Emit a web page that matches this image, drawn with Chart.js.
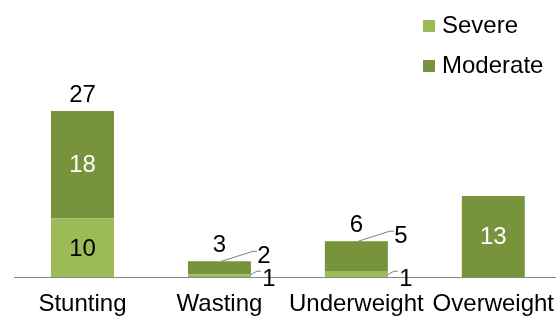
<!DOCTYPE html>
<html>
<head>
<meta charset="utf-8">
<script src="https://cdn.jsdelivr.net/npm/chart.js@4.4.0/dist/chart.umd.min.js"></script>
<style>
  html, body { margin: 0; padding: 0; background: #fff; overflow: hidden; }
  #wrap { width: 567px; height: 320px; }
</style>
</head>
<body>
<div id="wrap"><canvas id="grafico"></canvas></div>
<script>
const categorias = ['Stunting', 'Wasting', 'Underweight', 'Overweight']
const severo = [9.6, 0.5, 1.0, 0]
const moderado = [17.6, 2.1, 4.9, 13.3]
const nomes = ['Severe', 'Moderate']

const corSevero = '#9bbb59'
const corModerado = '#77933c'
const fonte = '"Liberation Sans", Arial, sans-serif'

// rotulos dos segmentos, totais e legenda desenhados no canvas
const rotulos = {
    id: 'rotulos',
    afterDatasetsDraw(chart) {
        const ctx = chart.ctx
        const base = chart.scales.y.getPixelForValue(0)
        ctx.save()
        ctx.font = '24px ' + fonte
        ctx.textAlign = 'center'
        ctx.textBaseline = 'middle'
        ctx.strokeStyle = '#7f7f7f'
        ctx.lineWidth = 1

        chart.data.datasets.forEach((ds, d) => {
            const meta = chart.getDatasetMeta(d)
            meta.data.forEach((bar, i) => {
                const v = ds.data[i]
                if (!v) return
                const top = Math.min(bar.y, bar.base)
                const bot = Math.max(bar.y, bar.base)
                const h = bot - top
                const right = bar.x + bar.width / 2
                const txt = String(Math.round(v))
                if (h > 45) {
                    ctx.fillStyle = d === 0 ? '#000' : '#fff'
                    ctx.fillText(txt, bar.x, (top + bot) / 2 + 1)
                } else if (d === 0) {
                    ctx.beginPath()
                    ctx.moveTo(right - 1, base - 2)
                    ctx.lineTo(right + 6, base - 6)
                    ctx.lineTo(right + 10, base - 6)
                    ctx.stroke()
                    ctx.fillStyle = '#000'
                    ctx.fillText(txt, right + 18, base + 2)
                } else {
                    const ly = top - 5
                    ctx.beginPath()
                    ctx.moveTo(bar.x + 2, top)
                    ctx.lineTo(right + 2, ly - 5)
                    ctx.lineTo(right + 6, ly - 5)
                    ctx.stroke()
                    ctx.fillStyle = '#000'
                    ctx.fillText(txt, right + 13, ly)
                }
            })
        })

        // totais
        const metaTopo = chart.getDatasetMeta(1)
        categorias.forEach((c, i) => {
            if (!severo[i] || !moderado[i]) return
            const bar = metaTopo.data[i]
            ctx.fillStyle = '#000'
            ctx.fillText(String(Math.round(severo[i] + moderado[i])), bar.x, bar.y - 16)
        })

        // legenda
        ctx.textAlign = 'left'
        const cores = [corSevero, corModerado]
        nomes.forEach((n, k) => {
            const y = 26 + k * 40
            ctx.fillStyle = cores[k]
            ctx.fillRect(423, y - 6, 12, 12)
            ctx.fillStyle = '#000'
            ctx.fillText(n, 442, y)
        })
        ctx.restore()
    }
}

new Chart(document.getElementById('grafico'), {
    type: 'bar',
    data: {
        labels: categorias,
        datasets: [
            { label: nomes[0], data: severo, backgroundColor: corSevero },
            { label: nomes[1], data: moderado, backgroundColor: corModerado }
        ]
    },
    options: {
        responsive: true,
        maintainAspectRatio: false,
        animation: false,
        events: [],
        datasets: { bar: { barPercentage: 0.46, categoryPercentage: 1 } },
        layout: { padding: { left: 14, right: 0, top: 94, bottom: -12 } },
        plugins: { legend: { display: false }, tooltip: { enabled: false } },
        scales: {
            x: {
                stacked: true,
                grid: { display: false, drawTicks: false },
                border: { color: '#868686', width: 1 },
                ticks: {
                    color: '#000', padding: 13, maxRotation: 0, minRotation: 0, autoSkip: false,
                    font: { family: fonte, size: 24 }
                }
            },
            y: {
                stacked: true,
                display: false,
                min: 0,
                max: 30
            }
        }
    },
    plugins: [rotulos]
})
</script>
</body>
</html>
